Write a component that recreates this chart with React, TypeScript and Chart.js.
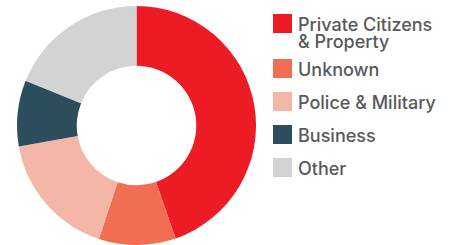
import React, { useEffect, useRef } from "react";
import { Chart, registerables } from "chart.js";

Chart.register(...registerables);

const categories: string[][] = [
  ["Private Citizens", "& Property"],
  ["Unknown"],
  ["Police & Military"],
  ["Business"],
  ["Other"],
];
const shares: number[] = [44.7, 10.4, 17.1, 8.9, 18.9];
const colors: string[] = ["#ED1C24", "#F26E52", "#F4B6A6", "#2C4D5C", "#D1D3D4"];

export default function App() {
  const canvasRef = useRef<HTMLCanvasElement | null>(null);

  useEffect(() => {
    document.body.style.margin = "0";
    const canvas = canvasRef.current;
    if (!canvas) return;
    const chart = new Chart(canvas, {
      type: "doughnut",
      data: {
        labels: categories.map((c) => c.join(" ")),
        datasets: [
          {
            data: shares,
            backgroundColor: colors,
            borderWidth: 0,
          },
        ],
      },
      options: {
        responsive: false,
        animation: false,
        cutout: "50%",
        layout: { padding: 0 },
        plugins: {
          legend: { display: false },
          tooltip: { enabled: false },
        },
      },
    });
    return () => chart.destroy();
  }, []);

  return (
    <div style={{ position: "relative", width: 449, height: 245, background: "#fff", overflow: "hidden" }}>
      <canvas
        ref={canvasRef}
        width={239}
        height={239}
        style={{ position: "absolute", left: 17, top: 6, width: 239, height: 239 }}
      />
      <div
        style={{
          position: "absolute",
          left: 273,
          top: 14,
          display: "flex",
          flexDirection: "column",
          gap: 14,
          fontFamily: "Inter, 'Open Sans', sans-serif",
          fontWeight: 500,
          fontSize: 18,
          lineHeight: "17px",
          color: "#58595B",
        }}
      >
        {categories.map((lines, i) => (
          <div key={i} style={{ display: "flex", alignItems: "flex-start", height: 19 + (lines.length - 1) * 12 }}>
            <div style={{ width: 19, height: 19, background: colors[i], flex: "none" }} />
            <div style={{ marginLeft: 6, paddingTop: 2, whiteSpace: "nowrap" }}>
              {lines.map((l, j) => (
                <div key={j}>{l}</div>
              ))}
            </div>
          </div>
        ))}
      </div>
    </div>
  );
}
